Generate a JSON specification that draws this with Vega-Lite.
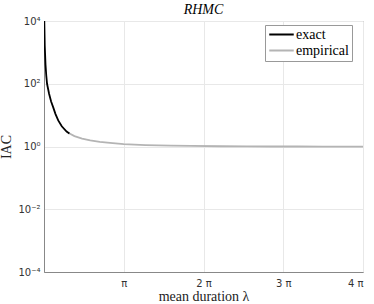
{
  "$schema": "https://vega.github.io/schema/vega-lite/v6.json",
  "width": 319,
  "height": 251,
  "autosize": "none",
  "padding": {"left": 44, "top": 21, "right": 11, "bottom": 32},
  "background": "white",
  "title": {"text": "RHMC", "font": "Liberation Serif", "fontStyle": "italic", "fontWeight": "normal", "fontSize": 14, "color": "#000", "offset": 4, "dy": 5},
  "config": {
    "view": {"stroke": "#888888", "strokeWidth": 1},
    "axis": {"domainColor": "#888888", "gridColor": "#e8e8e8", "gridOpacity": 1, "ticks": false, "labelFont": "DejaVu Sans", "labelFontSize": 10, "labelColor": "#333333", "titleFont": "Liberation Serif", "titleFontWeight": "normal", "titleFontSize": 14, "titleColor": "#222222"}
  },
  "data": {"values": [
    {"series": "empirical", "lambda": 0.95, "iac": 2.75},
    {"series": "empirical", "lambda": 1.2, "iac": 2.15},
    {"series": "empirical", "lambda": 1.5, "iac": 1.78},
    {"series": "empirical", "lambda": 1.82, "iac": 1.56},
    {"series": "empirical", "lambda": 2.2, "iac": 1.41},
    {"series": "empirical", "lambda": 2.6, "iac": 1.3},
    {"series": "empirical", "lambda": 3.14, "iac": 1.19},
    {"series": "empirical", "lambda": 4.0, "iac": 1.11},
    {"series": "empirical", "lambda": 5.0, "iac": 1.06},
    {"series": "empirical", "lambda": 5.8, "iac": 1.04},
    {"series": "empirical", "lambda": 7.0, "iac": 1.02},
    {"series": "empirical", "lambda": 8.0, "iac": 1.01},
    {"series": "empirical", "lambda": 9.0, "iac": 1.0},
    {"series": "empirical", "lambda": 10.0, "iac": 1.0},
    {"series": "empirical", "lambda": 11.0, "iac": 0.99},
    {"series": "empirical", "lambda": 12.0, "iac": 0.99},
    {"series": "empirical", "lambda": 12.566, "iac": 0.99},
    {"series": "exact", "lambda": 0.012, "iac": 10000},
    {"series": "exact", "lambda": 0.03, "iac": 1600},
    {"series": "exact", "lambda": 0.06, "iac": 400},
    {"series": "exact", "lambda": 0.09, "iac": 180},
    {"series": "exact", "lambda": 0.12, "iac": 100},
    {"series": "exact", "lambda": 0.2, "iac": 48},
    {"series": "exact", "lambda": 0.28, "iac": 27},
    {"series": "exact", "lambda": 0.36, "iac": 18},
    {"series": "exact", "lambda": 0.45, "iac": 11},
    {"series": "exact", "lambda": 0.56, "iac": 6.8},
    {"series": "exact", "lambda": 0.7, "iac": 4.4},
    {"series": "exact", "lambda": 0.89, "iac": 3.0},
    {"series": "exact", "lambda": 1.0, "iac": 2.6}
  ]},
  "mark": {"type": "line", "strokeWidth": 1.8, "clip": true},
  "encoding": {
    "x": {"field": "lambda", "type": "quantitative",
      "scale": {"domain": [0, 12.566370614359172], "nice": false, "zero": false},
      "axis": {"title": "mean duration λ", "values": [3.141592653589793, 6.283185307179586, 9.42477796076938, 12.566370614359172],
        "labelExpr": "datum.value < 4 ? 'π' : (round(datum.value / PI) + ' π')", "labelPadding": 6, "titlePadding": 1}},
    "y": {"field": "iac", "type": "quantitative",
      "scale": {"type": "log", "domain": [0.0001, 10000], "nice": false},
      "axis": {"title": "IAC", "values": [0.0001, 0.01, 1, 100, 10000],
        "labelExpr": "datum.value == 10000 ? '10⁴' : datum.value == 100 ? '10²' : datum.value == 1 ? '10⁰' : datum.value == 0.01 ? '10⁻²' : '10⁻⁴'", "labelPadding": 4, "titlePadding": 4}},
    "color": {"field": "series", "type": "nominal",
      "scale": {"domain": ["exact", "empirical"], "range": ["#000000", "#b4b4b4"]},
      "legend": {"title": null, "orient": "none", "legendX": 221, "legendY": 4, "symbolType": "stroke", "symbolSize": 600, "symbolStrokeWidth": 2, "clipHeight": 13, "labelFont": "Liberation Serif", "labelFontSize": 14, "labelColor": "#000", "strokeColor": "#999999", "fillColor": "white", "padding": 3, "rowPadding": 1, "labelOffset": 1}},
    "order": {"field": "series", "sort": "ascending"}
  }
}
